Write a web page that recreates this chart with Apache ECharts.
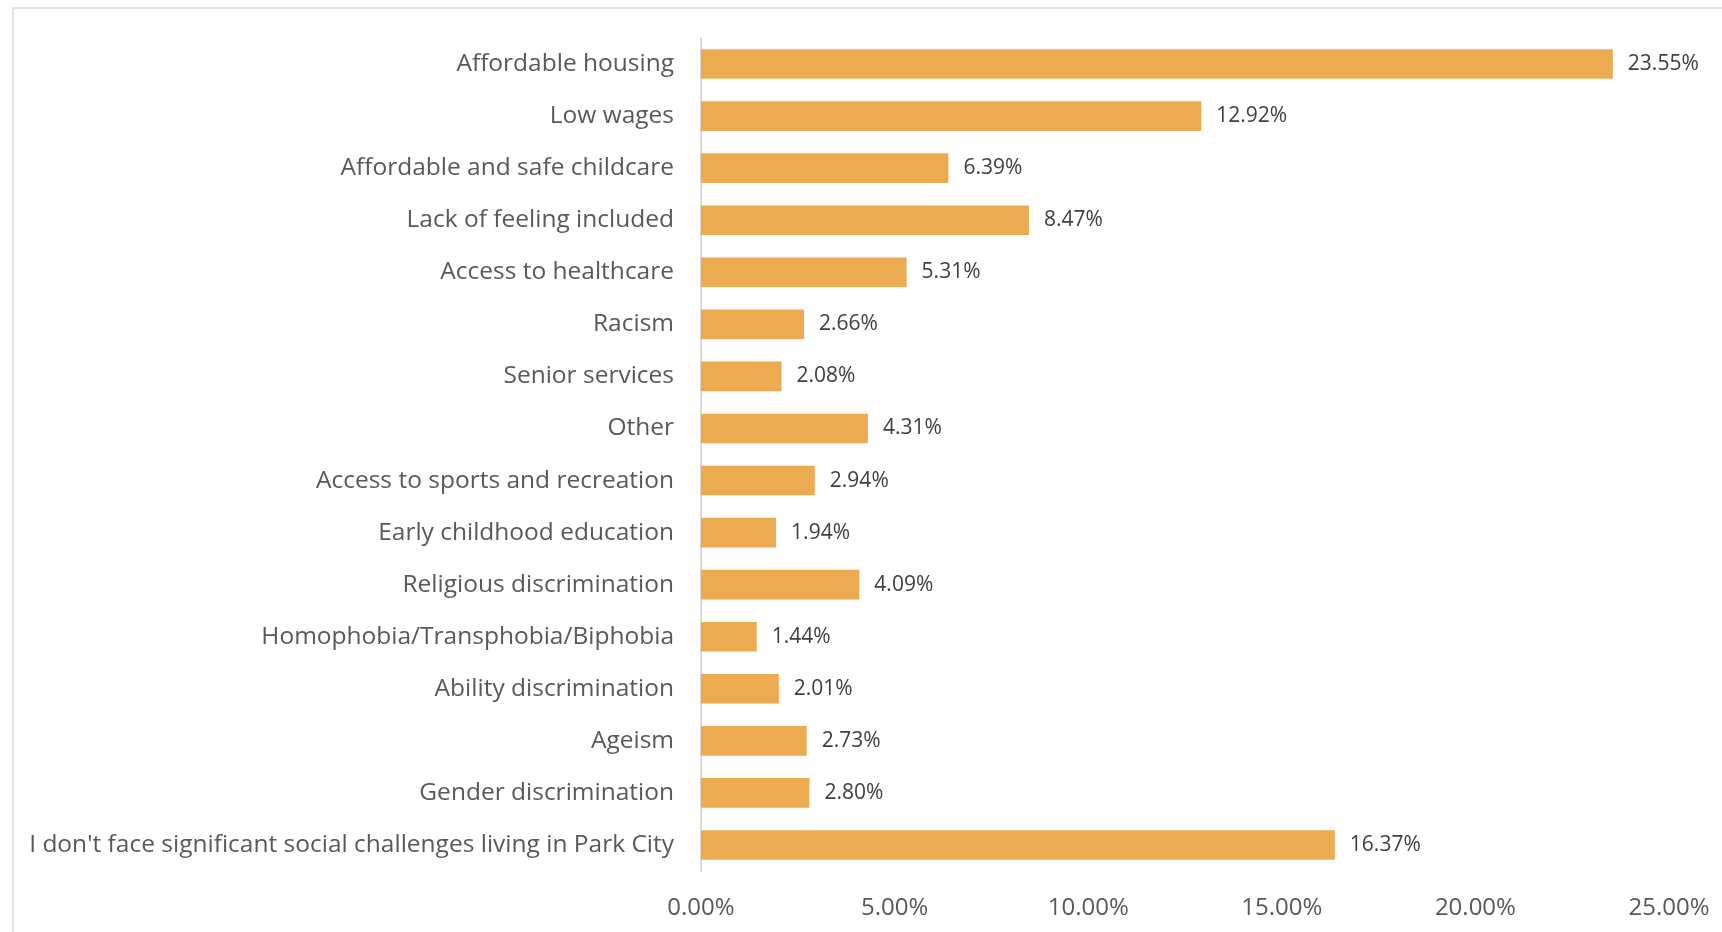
<!DOCTYPE html>
<html>
<head>
<meta charset="utf-8">
<script src="https://cdn.jsdelivr.net/npm/echarts@6/dist/echarts.min.js"></script>
<style>
  html, body { margin: 0; padding: 0; background: #fff; }
  #chart { width: 1722px; height: 932px; }
</style>
</head>
<body>
<div id="chart"></div>
<script>
  // categories, top to bottom as in the picture
  var categories = [
    'Affordable housing',
    'Low wages',
    'Affordable and safe childcare',
    'Lack of feeling included',
    'Access to healthcare',
    'Racism',
    'Senior services',
    'Other',
    'Access to sports and recreation',
    'Early childhood education',
    'Religious discrimination',
    'Homophobia/Transphobia/Biphobia',
    'Ability discrimination',
    'Ageism',
    'Gender discrimination',
    "I don't face significant social challenges living in Park City"
  ];
  var shares = [23.55, 12.92, 6.39, 8.47, 5.31, 2.66, 2.08, 4.31, 2.94, 1.94, 4.09, 1.44, 2.01, 2.73, 2.80, 16.37];
  var axisTicks = [0, 5, 10, 15, 20, 25];

  var font = '"Open Sans", sans-serif';
  var chart = echarts.init(document.getElementById('chart'));

  var option = {
    backgroundColor: '#ffffff',
    animation: false,
    graphic: [{
      // outer chart frame (cut off on the right and bottom)
      type: 'rect',
      shape: { x: 13, y: 8, width: 1800, height: 1000 },
      style: { fill: 'none', stroke: '#d9d9d9', lineWidth: 1.5 }
    }],
    grid: {
      left: 701,
      right: 53,
      top: 38,
      bottom: 61
    },
    xAxis: {
      type: 'value',
      min: axisTicks[0],
      max: axisTicks[axisTicks.length - 1],
      interval: 5,
      axisLine: { show: false },
      axisTick: { show: false },
      splitLine: { show: false },
      axisLabel: {
        margin: 25,
        fontFamily: font,
        fontSize: 24,
        color: '#595959',
        formatter: function (v) { return v.toFixed(2) + '%'; }
      }
    },
    yAxis: {
      type: 'category',
      inverse: true,
      data: categories,
      axisLine: { show: true, lineStyle: { color: '#d9d9d9', width: 2 } },
      axisTick: { show: false },
      axisLabel: {
        margin: 27,
        fontFamily: font,
        fontSize: 24.5,
        color: '#595959'
      }
    },
    series: [{
      type: 'bar',
      data: shares,
      barWidth: '57%',
      itemStyle: { color: '#edab51' },
      label: {
        show: true,
        position: 'right',
        distance: 15,
        fontFamily: font,
        fontSize: 21,
        color: '#404040',
        formatter: function (p) { return p.value.toFixed(2) + '%'; }
      }
    }]
  };

  chart.setOption(option);
</script>
</body>
</html>
